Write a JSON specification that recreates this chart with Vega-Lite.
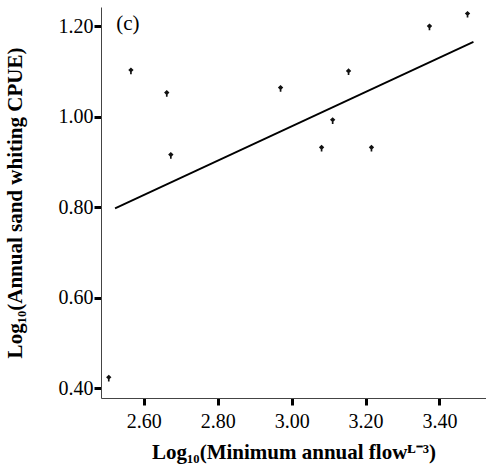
{
  "$schema": "https://vega.github.io/schema/vega-lite/v6.json",
  "width": 385,
  "height": 391,
  "autosize": {"type": "none"},
  "padding": {"left": 101, "top": 7, "right": 0, "bottom": 72},
  "background": "white",
  "config": {
    "view": {"stroke": null},
    "font": "Liberation Serif",
    "axis": {
      "grid": false,
      "domainColor": "#444444",
      "domainWidth": 1,
      "tickColor": "black",
      "tickWidth": 3,
      "tickSize": 7,
      "labelFont": "Liberation Serif",
      "labelFontSize": 20,
      "labelColor": "black",
      "titleFont": "Liberation Serif",
      "titleFontSize": 21,
      "titleFontWeight": "bold",
      "titleColor": "black"
    }
  },
  "datasets": {
    "points": [
      {"flow": 2.505, "cpue": 0.422},
      {"flow": 2.565, "cpue": 1.101},
      {"flow": 2.662, "cpue": 1.051},
      {"flow": 2.673, "cpue": 0.914},
      {"flow": 2.970, "cpue": 1.062},
      {"flow": 3.081, "cpue": 0.930},
      {"flow": 3.111, "cpue": 0.991},
      {"flow": 3.154, "cpue": 1.099},
      {"flow": 3.216, "cpue": 0.930},
      {"flow": 3.373, "cpue": 1.198},
      {"flow": 3.476, "cpue": 1.226}
    ],
    "fit": [
      {"flow": 2.522, "cpue": 0.797},
      {"flow": 3.492, "cpue": 1.165}
    ],
    "panel": [
      {"flow": 2.525, "cpue": 1.205, "label": "(c)"}
    ]
  },
  "layer": [
    {
      "data": {"name": "fit"},
      "mark": {"type": "line", "color": "black", "strokeWidth": 1.8},
      "encoding": {
        "x": {
          "field": "flow",
          "type": "quantitative",
          "scale": {"domain": [2.484, 3.526], "nice": false, "zero": false},
          "axis": {
            "values": [2.6, 2.8, 3.0, 3.2, 3.4],
            "format": ".2f",
            "labelPadding": 6,
            "title": "Log₁₀(Minimum annual flowᴸ⁻³)",
            "titlePadding": 10
          }
        },
        "y": {
          "field": "cpue",
          "type": "quantitative",
          "scale": {"domain": [0.378, 1.242], "nice": false, "zero": false},
          "axis": {
            "values": [0.4, 0.6, 0.8, 1.0, 1.2],
            "format": ".2f",
            "labelPadding": 1,
            "title": "Log₁₀(Annual sand whiting CPUE)",
            "titlePadding": 33
          }
        }
      }
    },
    {
      "data": {"name": "points"},
      "mark": {
        "type": "point",
        "filled": true,
        "color": "#111111",
        "opacity": 1,
        "size": 45,
        "shape": "M0,-1L0.8,-0.25L0.25,0.3L0.25,1L-0.25,1L-0.25,0.3L-0.8,-0.25Z"
      },
      "encoding": {
        "x": {"field": "flow", "type": "quantitative"},
        "y": {"field": "cpue", "type": "quantitative"}
      }
    },
    {
      "data": {"name": "panel"},
      "mark": {"type": "text", "fontSize": 21, "font": "Liberation Serif", "align": "left", "baseline": "middle", "color": "black"},
      "encoding": {
        "x": {"field": "flow", "type": "quantitative"},
        "y": {"field": "cpue", "type": "quantitative"},
        "text": {"field": "label"}
      }
    }
  ]
}
